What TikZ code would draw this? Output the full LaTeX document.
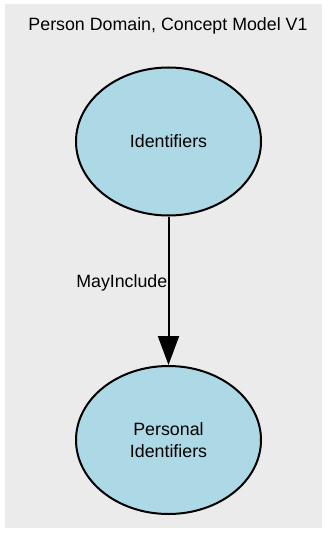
\documentclass[tikz,border=0pt]{standalone}
\usepackage{fontspec}
\setmainfont{Liberation Sans}
\usetikzlibrary{arrows.meta,shapes.geometric}
\definecolor{bggrey}{HTML}{EBEBEB}
\definecolor{nodeblue}{HTML}{ADD8E6}
\tikzset{
  concept/.style={ellipse, draw=black, fill=nodeblue, line width=2pt,
    minimum width=185pt, minimum height=148pt, inner sep=0pt,
    align=center, font=\fontsize{17.8}{21.7}\selectfont},
  labeltext/.style={inner sep=0pt, font=\fontsize{17.8}{21.7}\selectfont},
  relation/.style={line width=2pt, -{Triangle[width=21pt,length=29pt]}}
}
\begin{document}
\begin{tikzpicture}[x=1pt,y=-1pt]
  \useasboundingbox (0,0) rectangle (327,535);
  \fill[bggrey] (4.5,4) rectangle (322,528);
  \node[labeltext, anchor=base] (title) at (168,31) {Person Domain, Concept Model V1};
  \node[concept] (ident) at (168.5,141.5) {Identifiers};
  \node[concept] (pers) at (168.5,440) {Personal\\Identifiers};
  \draw[relation] (ident) -- (pers);
  \node[labeltext, anchor=base east] (lbl) at (167.5,287) {MayInclude};
\end{tikzpicture}
\end{document}
